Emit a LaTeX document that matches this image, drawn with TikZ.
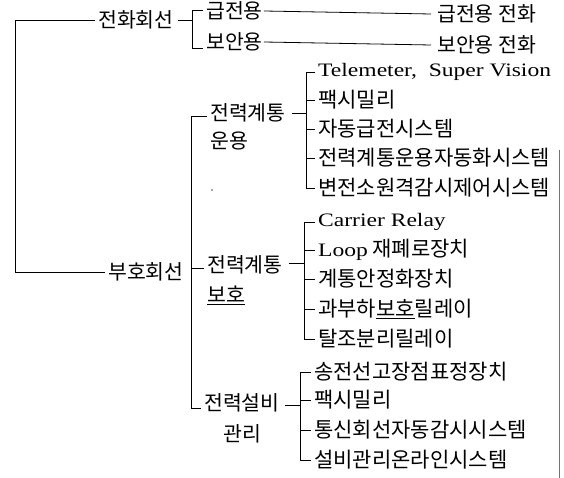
\documentclass[tikz,border=0pt]{standalone}
\usepackage{fontspec}
\setmainfont{Noto Sans CJK KR}
\newfontfamily\lat{Liberation Serif}[FakeStretch=1.24]
\begin{document}
\begin{tikzpicture}[x=1pt,y=-1pt,
  every node/.style={inner sep=0pt, anchor=west},
  lbl/.style={font=\fontsize{20.5}{22}\selectfont},
  item/.style={font=\fontsize{21}{23}\selectfont},
  latx/.style={font=\fontsize{19}{21}\selectfont},
  ln/.style={line width=0.8pt, black}]
\useasboundingbox (0,0) rectangle (564,478);
\fill[white] (0,0) rectangle (564,478);

% bracket spines
\coordinate (s0) at (15,0);
\coordinate (b1) at (192,0);
\coordinate (m)  at (191,0);
\coordinate (b2) at (306,0);
\coordinate (b3) at (304,0);
\coordinate (b4) at (300,0);

% level 1 and 2 labels
\node[lbl] (jh)  at (98,20)   {전화회선};
\node[lbl] (bh)  at (108,272) {부호회선};
\node[lbl] (gj)  at (206,11)  {급전용};
\node[lbl] (ba)  at (206,42)  {보안용};
\node[lbl] (gjt) at (437,14)  {급전용 전화};
\node[lbl] (bat) at (437,45)  {보안용 전화};
\node[lbl] (jt1) at (210,113) {전력계통};
\node[lbl] (uy)  at (210,141) {운용};
\node[lbl] (jt2) at (207,265) {전력계통};
\node[lbl] (bo)  at (207,295) {\underline{보호}};
\node[lbl] (js)  at (204,403) {전력설비};
\node[lbl] (gl)  at (223,434) {관리};

% items, group 1
\node[latx] (t1) at (318,72)  {\lat Telemeter,\ \ Super Vision};
\node[item] (t2) at (318,100) {팩시밀리};
\node[item] (t3) at (318,129) {자동급전시스템};
\node[item] (t4) at (318,158) {전력계통운용자동화시스템};
\node[item] (t5) at (318,188) {변전소원격감시제어시스템};
% items, group 2
\node[latx] (c1) at (318,222) {\lat Carrier Relay};
\node[item] (c2) at (318,250) {{\fontsize{19}{21}\selectfont\lat Loop} 재폐로장치};
\node[item] (c3) at (318,279) {계통안정화장치};
\node[item] (c4) at (318,309) {과부하\underline{보호}릴레이};
\node[item] (c5) at (318,339) {탈조분리릴레이};
% items, group 3
\node[item] (d1) at (314,372) {송전선고장점표정장치};
\node[item] (d2) at (314,400) {팩시밀리};
\node[item] (d3) at (314,430) {통신회선자동감시시스템};
\node[item] (d4) at (314,460) {설비관리온라인시스템};

% main left bracket
\draw[ln] ([xshift=-3pt]jh.west) -- (jh.west -| s0) -- (bh.west -| s0) -- ([xshift=-3pt]bh.west);

% telephone bracket
\draw[ln] ([xshift=4pt]jh.east) -- (jh.east -| b1);
\draw[ln] ([xshift=-3pt,yshift=1pt]gj.west) -- ([yshift=1pt]gj.west -| b1) -- ([yshift=-6pt]ba.west -| b1) -- ([xshift=-3pt,yshift=-6pt]ba.west);
\draw[ln] ([xshift=1pt]gj.east) -- ([xshift=-6pt]gjt.west);
\draw[ln] ([xshift=1pt]ba.east) -- ([xshift=-6pt]bat.west);

% middle bracket
\draw[ln] ([xshift=-3pt,yshift=-3pt]jt1.west) -- ([yshift=-3pt]jt1.west -| m) -- ([yshift=-5pt]js.west -| m) -- ([xshift=-3pt,yshift=-5pt]js.west);
\draw[ln] ([yshift=-3pt]jt2.west -| m) -- ([xshift=-3pt,yshift=-3pt]jt2.west);

% group 1 bracket
\draw[ln] ([xshift=6pt]jt1.east) -- (jt1.east -| b2);
\draw[ln] ([xshift=-3pt]t1.west) -- (t1.west -| b2) -- (t5.west -| b2) -- ([xshift=-3pt]t5.west);
\foreach \n in {t2,t3,t4} \draw[ln] (\n.west -| b2) -- ([xshift=-3pt]\n.west);

% group 2 bracket
\draw[ln] ([xshift=6pt,yshift=2pt]jt2.east) -- ([yshift=2pt]jt2.east -| b3);
\draw[ln] ([xshift=-3pt]c1.west) -- (c1.west -| b3) -- (c5.west -| b3) -- ([xshift=-3pt]c5.west);
\foreach \n in {c2,c3,c4} \draw[ln] (\n.west -| b3) -- ([xshift=-3pt]\n.west);

% group 3 bracket
\draw[ln] ([xshift=5pt,yshift=-2pt]js.east) -- ([yshift=-2pt]js.east -| b4);
\draw[ln] ([xshift=-3pt]d1.west) -- (d1.west -| b4) -- (d4.west -| b4) -- ([xshift=-3pt]d4.west);
\foreach \n in {d2,d3} \draw[ln] (\n.west -| b4) -- ([xshift=-3pt]\n.west);

% scan marks
\fill[black!70] (212,190) circle (0.8pt);
\draw[black!55, line width=0.8pt] (559,150) -- (559,478);
\end{tikzpicture}
\end{document}
